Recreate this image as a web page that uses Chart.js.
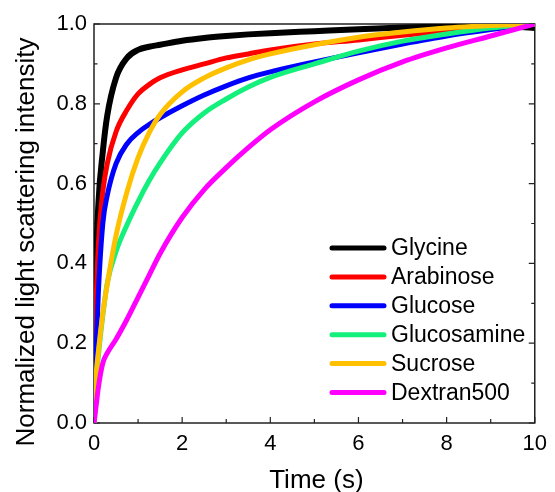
<!DOCTYPE html>
<html>
<head>
<meta charset="utf-8">
<script src="https://cdn.jsdelivr.net/npm/chart.js@4.4.1/dist/chart.umd.min.js"></script>
<style>
  html, body { margin: 0; padding: 0; background: #fff; }
</style>
</head>
<body>
<canvas id="myChart" width="555" height="492"></canvas>
<script>
// sampling times (s), shared by every trace
const time = [0, 0.05, 0.1, 0.2, 0.3, 0.5, 0.75, 1, 1.25, 1.5, 2, 2.5, 3, 3.5, 4, 5, 6, 7, 8, 9, 10]

const glycine = [0, 0.40, 0.55, 0.68, 0.77, 0.865, 0.915, 0.935, 0.943, 0.948, 0.958, 0.965, 0.97, 0.974, 0.977, 0.982, 0.987, 0.991, 0.994, 0.996, 0.99]
const arabinose = [0, 0.30, 0.45, 0.58, 0.65, 0.73, 0.785, 0.825, 0.848, 0.865, 0.885, 0.90, 0.915, 0.925, 0.935, 0.95, 0.96, 0.972, 0.982, 0.992, 1.0]
const glucose = [0, 0.19, 0.33, 0.50, 0.57, 0.65, 0.70, 0.728, 0.748, 0.765, 0.795, 0.822, 0.845, 0.865, 0.88, 0.905, 0.928, 0.95, 0.97, 0.986, 1.0]
const glucosamine = [0, 0.11, 0.17, 0.27, 0.35, 0.43, 0.497, 0.555, 0.607, 0.652, 0.727, 0.777, 0.812, 0.842, 0.866, 0.90, 0.932, 0.957, 0.975, 0.99, 1.0]
const sucrose = [0, 0.12, 0.18, 0.275, 0.347, 0.47, 0.58, 0.665, 0.727, 0.773, 0.83, 0.865, 0.89, 0.91, 0.925, 0.948, 0.967, 0.98, 0.99, 0.996, 1.0]
const dextran500 = [0, 0.045, 0.09, 0.15, 0.175, 0.21, 0.26, 0.315, 0.37, 0.425, 0.515, 0.585, 0.64, 0.69, 0.735, 0.805, 0.86, 0.905, 0.94, 0.97, 1.0]

const seriesNames = ['Glycine', 'Arabinose', 'Glucose', 'Glucosamine', 'Sucrose', 'Dextran500']
const seriesValues = [glycine, arabinose, glucose, glucosamine, sucrose, dextran500]
const seriesColors = ['#000000', '#ff0000', '#0000ff', '#14f07c', '#ffc000', '#ff00ff']

const xTicks = [0, 2, 4, 6, 8, 10]
const yTicks = [0, 0.2, 0.4, 0.6, 0.8, 1.0]

const FONT = 'Arial, "Liberation Sans", sans-serif'
const AXIS_COLOR = '#222'

// box round the plot plus inward tick marks (major and minor)
const framePlugin = {
  id: 'frame',
  beforeDatasetsDraw(chart) {
    const { ctx, chartArea: a, scales } = chart
    ctx.save()
    ctx.strokeStyle = AXIS_COLOR
    ctx.lineWidth = 1.5
    ctx.strokeRect(a.left, a.top, a.right - a.left, a.bottom - a.top)

    ctx.lineWidth = 1.2
    ctx.beginPath()
    for (let i = 0; i <= 10; i++) {
      const y = scales.y.getPixelForValue(i / 10)
      const len = i % 2 === 0 ? 6 : 3.5
      ctx.moveTo(a.left, y)
      ctx.lineTo(a.left + len, y)
      ctx.moveTo(a.right, y)
      ctx.lineTo(a.right - len, y)
    }
    for (let i = 0; i <= 10; i++) {
      const x = scales.x.getPixelForValue(i)
      const len = i % 2 === 0 ? 6 : 4
      ctx.moveTo(x, a.bottom)
      ctx.lineTo(x, a.bottom - len)
    }
    ctx.stroke()
    ctx.restore()
  },
}

// axis titles and the legend block in the lower right
const textPlugin = {
  id: 'texts',
  afterDraw(chart) {
    const { ctx, chartArea: a } = chart
    ctx.save()
    ctx.fillStyle = '#000'
    ctx.font = '26px ' + FONT
    ctx.textAlign = 'center'
    ctx.textBaseline = 'alphabetic'
    ctx.fillText('Time (s)', (a.left + a.right) / 2 + 2, 488)

    ctx.save()
    ctx.translate(34, 242)
    ctx.rotate(-Math.PI / 2)
    ctx.fillText('Normalized light scattering intensity', 0, 0)
    ctx.restore()

    ctx.font = '23px ' + FONT
    ctx.textAlign = 'left'
    ctx.textBaseline = 'middle'
    ctx.lineCap = 'round'
    ctx.lineWidth = 5
    chart.data.datasets.forEach((ds, i) => {
      const y = 248 + i * 28.9
      ctx.strokeStyle = ds.borderColor
      ctx.beginPath()
      ctx.moveTo(332, y)
      ctx.lineTo(384, y)
      ctx.stroke()
      ctx.fillText(ds.label, 391, y + 1)
    })
    ctx.restore()
  },
}

function generateGraph() {
  const datasets = seriesNames.map((label, i) => ({
    label,
    data: time.map((t, j) => ({ x: t, y: seriesValues[i][j] })),
    borderColor: seriesColors[i],
    borderWidth: i === 0 ? 6 : 5,
    pointRadius: 0,
    cubicInterpolationMode: 'monotone',
    // later series sit on top, as in the legend order
    order: seriesNames.length - i,
  }))

  const ctx = document.getElementById('myChart').getContext('2d')
  new Chart(ctx, {
    type: 'line',
    data: { datasets },
    options: {
      responsive: false,
      animation: false,
      layout: { padding: { left: 0, top: 24, right: 14, bottom: 0 } },
      plugins: {
        legend: { display: false },
        tooltip: { enabled: false },
      },
      scales: {
        x: {
          type: 'linear',
          min: 0,
          max: 10,
          afterBuildTicks: s => { s.ticks = xTicks.map(value => ({ value })) },
          afterFit: s => { s.height = 69 },
          grid: { display: true, drawOnChartArea: false, drawTicks: false },
          border: { display: false },
          ticks: { color: '#000', padding: 8, maxRotation: 0, font: { size: 22, family: FONT } },
        },
        y: {
          type: 'linear',
          min: 0,
          max: 1,
          afterBuildTicks: s => { s.ticks = yTicks.map(value => ({ value })) },
          afterFit: s => { s.width = 94 },
          grid: { display: true, drawOnChartArea: false, drawTicks: false },
          border: { display: false },
          ticks: {
            color: '#000',
            padding: 7,
            font: { size: 22, family: FONT },
            callback: v => v.toFixed(1),
          },
        },
      },
    },
    plugins: [framePlugin, textPlugin],
  })
}

generateGraph()
</script>
</body>
</html>
